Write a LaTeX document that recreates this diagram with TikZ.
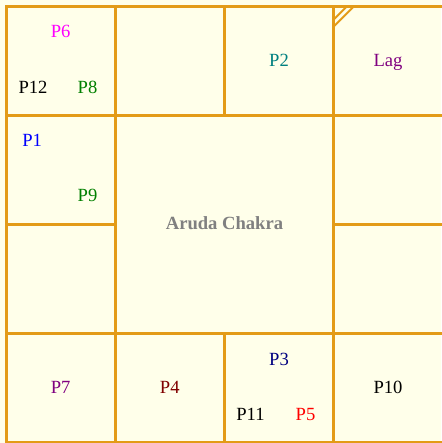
\documentclass[tikz,border=0pt]{standalone}
\usepackage{fontspec}
\setmainfont{Liberation Serif}
\definecolor{gridc}{HTML}{E39B17}
\definecolor{bgc}{HTML}{FFFFEA}
\definecolor{pmag}{HTML}{FF00FF}
\definecolor{pgreen}{HTML}{008000}
\definecolor{pteal}{HTML}{008080}
\definecolor{ppurple}{HTML}{800080}
\definecolor{pblue}{HTML}{0000FF}
\definecolor{pmaroon}{HTML}{800000}
\definecolor{pnavy}{HTML}{000080}
\definecolor{pred}{HTML}{FF0000}
\definecolor{pgray}{HTML}{808080}
\begin{document}
\begin{tikzpicture}[x=1pt,y=-1pt,
  gridline/.style={draw=gridc,line width=3pt},
  diagline/.style={draw=gridc,line width=2pt},
  planet/.style={anchor=base,inner sep=0pt,font=\fontsize{18.6}{21}\selectfont},
  title/.style={anchor=base,inner sep=0pt,font=\fontsize{18.6}{21}\selectfont\bfseries,text=pgray}]
\useasboundingbox (0,0) rectangle (441,443);
\fill[bgc] (0,0) rectangle (441,443);
% outer border
\draw[gridline] (6.7,6.7) rectangle (443.8,442.5);
% inner grid lines
\draw[gridline] (115.5,6.7) -- (115.5,442.5);
\draw[gridline] (333.5,6.7) -- (333.5,442.5);
\draw[gridline] (224.5,6.7) -- (224.5,115.5);
\draw[gridline] (224.5,333.5) -- (224.5,442.5);
\draw[gridline] (6.7,115.5) -- (443.8,115.5);
\draw[gridline] (6.7,333.5) -- (443.8,333.5);
\draw[gridline] (6.7,224.5) -- (115.5,224.5);
\draw[gridline] (333.5,224.5) -- (443.8,224.5);
% lagna marker
\draw[diagline] (333.5,19.7) -- (346.5,6.7);
\draw[diagline] (333.5,26.7) -- (353.5,6.7);
% planets
\node[planet,text=pmag] (p6) at (60.7,37.7) {P6};
\node[planet,text=black] (p12) at (33,93.3) {P12};
\node[planet,text=pgreen] (p8) at (87.5,93.3) {P8};
\node[planet,text=pteal] (p2) at (279,66.5) {P2};
\node[planet,text=ppurple] (lag) at (388,66.5) {Lag};
\node[planet,text=pblue] (p1) at (32.2,146.7) {P1};
\node[planet,text=pgreen] (p9) at (87.5,201) {P9};
\node[title] (title) at (224.5,229.3) {Aruda Chakra};
\node[planet,text=ppurple] (p7) at (60.7,393.5) {P7};
\node[planet,text=pmaroon] (p4) at (169.8,393.5) {P4};
\node[planet,text=pnavy] (p3) at (279,365) {P3};
\node[planet,text=black] (p11) at (250.5,420.3) {P11};
\node[planet,text=pred] (p5) at (305.5,420.3) {P5};
\node[planet,text=black] (p10) at (388,393.5) {P10};
\end{tikzpicture}
\end{document}
